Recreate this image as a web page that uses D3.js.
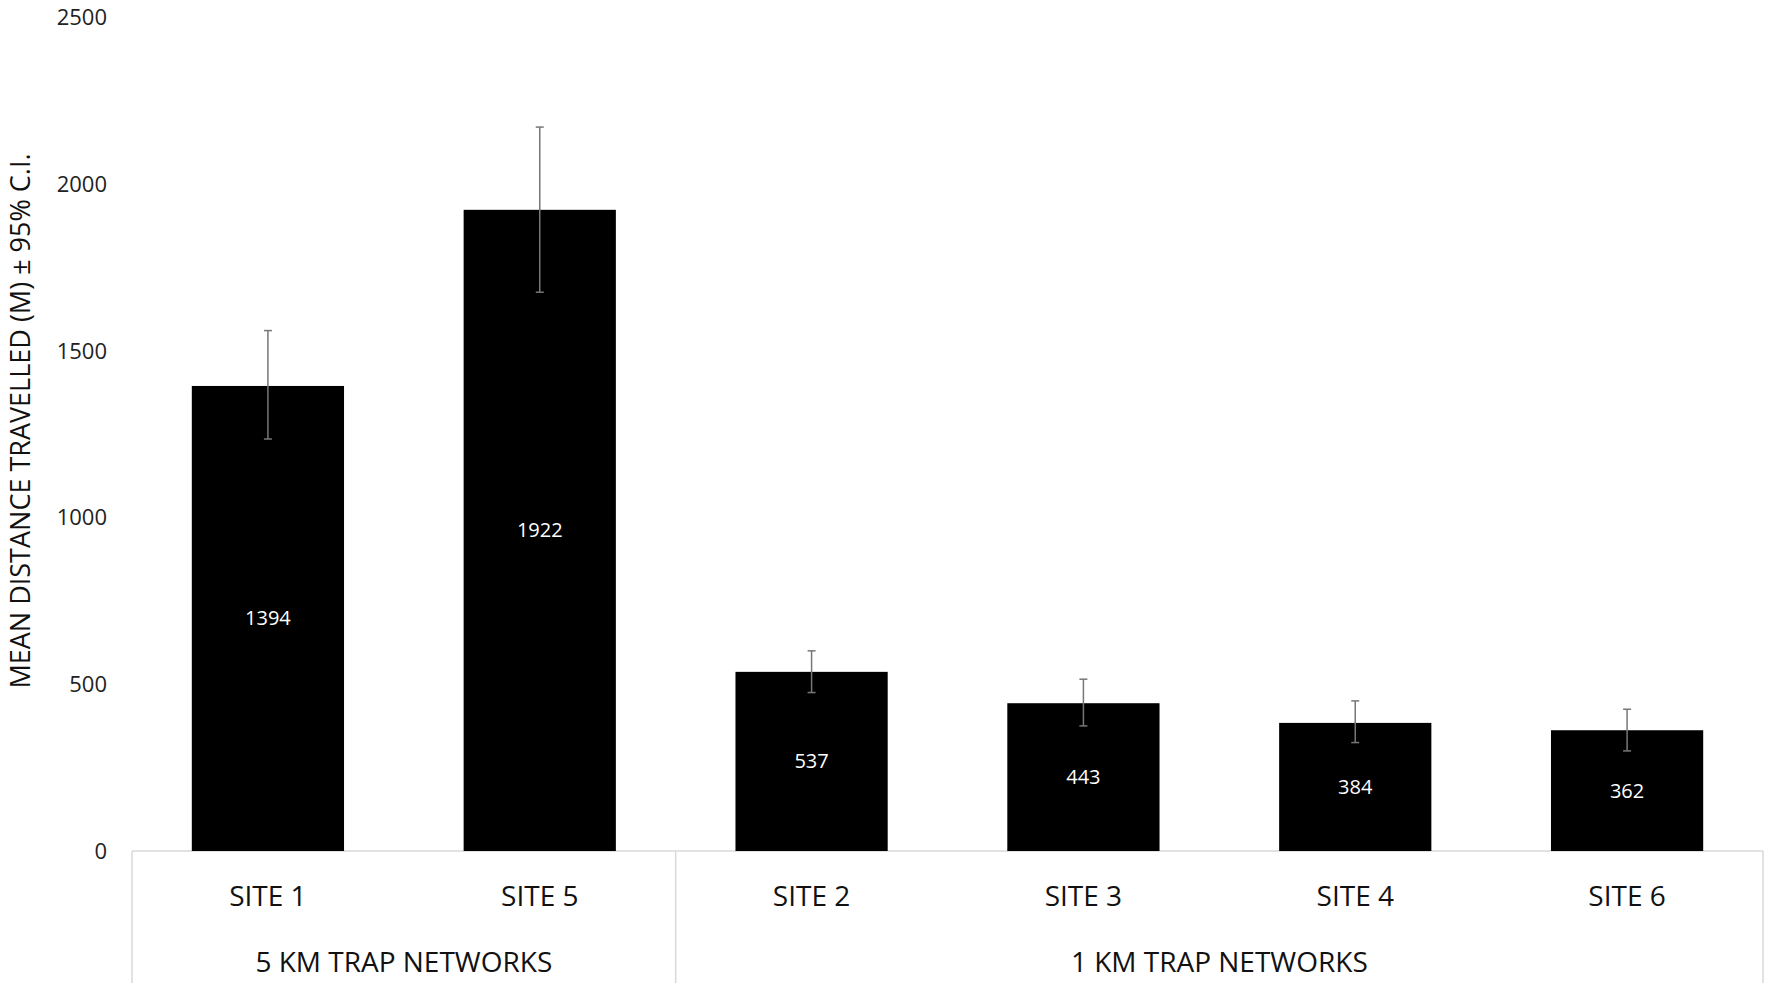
<!DOCTYPE html>
<html><head><meta charset="utf-8">
<script src="https://cdn.jsdelivr.net/npm/d3@7"></script>
<style>body{margin:0;background:#fff}text{font-family:"Open Sans",sans-serif}</style>
</head><body><svg id="chart" width="1772" height="990"></svg>
<script>
// data
const sites = ['SITE 1', 'SITE 5', 'SITE 2', 'SITE 3', 'SITE 4', 'SITE 6'];
const means = [1394, 1922, 537, 443, 384, 362];
const ciLow = [1235, 1675, 475, 375, 325, 300];
const ciHigh = [1560, 2170, 600, 515, 450, 425];
const groups = ['5 KM TRAP NETWORKS', '1 KM TRAP NETWORKS'];
const groupSizes = [2, 4];
const yTicks = [0, 500, 1000, 1500, 2000, 2500];

const svg = d3.select('#chart');
const plotLeft = 132, plotRight = 1763, plotTop = 17, plotBottom = 851;

let x = d3.scaleBand().domain(sites).range([plotLeft, plotRight]).paddingInner(0.44).paddingOuter(0.22);
let y = d3.scaleLinear().domain([0, 2500]).range([plotBottom, plotTop]);
let step = (plotRight - plotLeft) / sites.length;

// category separators
let bounds = [0];
groupSizes.forEach(n => bounds.push(bounds[bounds.length - 1] + n));
svg.selectAll('line.sep').data(bounds).enter().append('line')
   .attr('x1', d => plotLeft + d * step)
   .attr('x2', d => plotLeft + d * step)
   .attr('y1', plotBottom).attr('y2', 983)
   .attr('stroke', '#d9d9d9').attr('stroke-width', 1.5);
svg.append('line').attr('x1', plotLeft).attr('x2', plotRight).attr('y1', plotBottom).attr('y2', plotBottom)
   .attr('stroke', '#d9d9d9').attr('stroke-width', 1.5);

svg.selectAll('rect.bar').data(sites).enter().append('rect')
   .attr('x', d => x(d)).attr('width', x.bandwidth())
   .attr('y', (d, i) => y(means[i])).attr('height', (d, i) => plotBottom - y(means[i]))
   .attr('fill', '#000');

// error bars
let eb = svg.selectAll('g.err').data(sites).enter().append('g')
   .attr('stroke', '#777').attr('stroke-width', 1.5);
eb.append('line').attr('x1', d => x(d) + x.bandwidth() / 2).attr('x2', d => x(d) + x.bandwidth() / 2)
  .attr('y1', (d, i) => y(ciLow[i])).attr('y2', (d, i) => y(ciHigh[i]));
[ciLow, ciHigh].forEach(arr => {
  eb.append('line').attr('x1', d => x(d) + x.bandwidth() / 2 - 4).attr('x2', d => x(d) + x.bandwidth() / 2 + 4)
    .attr('y1', (d, i) => y(arr[i])).attr('y2', (d, i) => y(arr[i]));
});

svg.selectAll('text.val').data(sites).enter().append('text')
   .attr('x', d => x(d) + x.bandwidth() / 2)
   .attr('y', (d, i) => (y(means[i]) + plotBottom) / 2 + 7)
   .attr('text-anchor', 'middle').attr('fill', '#fff').attr('font-size', 20)
   .text((d, i) => means[i]);

svg.selectAll('text.tick').data(yTicks).enter().append('text')
   .attr('x', 107).attr('y', d => y(d) + 8).attr('text-anchor', 'end')
   .attr('font-size', 22).attr('fill', '#222').text(d => d);

svg.selectAll('text.site').data(sites).enter().append('text')
   .attr('x', d => x(d) + x.bandwidth() / 2).attr('y', 906)
   .attr('text-anchor', 'middle').attr('font-size', 28).attr('fill', '#111').text(d => d);

svg.selectAll('text.grp').data(groups).enter().append('text')
   .attr('x', (d, i) => plotLeft + (bounds[i] + bounds[i + 1]) / 2 * step)
   .attr('y', 972).attr('text-anchor', 'middle').attr('font-size', 28).attr('fill', '#111').text(d => d);

svg.append('text').attr('transform', 'translate(30,421) rotate(-90)')
   .attr('text-anchor', 'middle').attr('font-size', 27).attr('fill', '#111')
   .text('MEAN DISTANCE TRAVELLED (M) ± 95% C.I.');
</script></body></html>
